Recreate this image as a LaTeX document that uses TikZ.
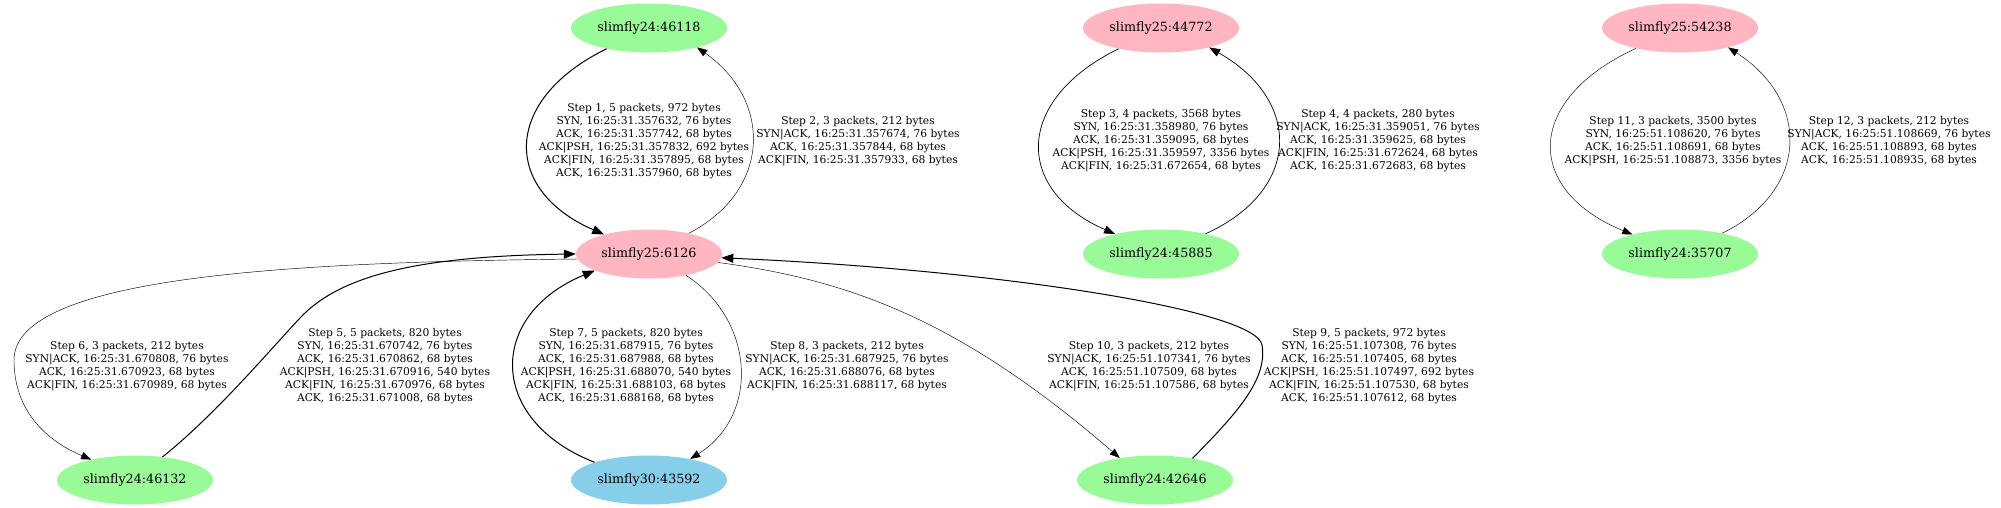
\documentclass[tikz,border=0pt]{standalone}
\usepackage{fontspec}
\setmainfont{DejaVu Serif}
\usetikzlibrary{shapes.geometric, arrows.meta}
\definecolor{pgreen}{HTML}{98FB98}
\definecolor{lpink}{HTML}{FFB6C1}
\definecolor{sky}{HTML}{87CEEB}
\begin{document}
\begin{tikzpicture}[x=1pt,y=-1pt,
  host/.style={ellipse, inner sep=0pt, minimum width=156pt, minimum height=49pt, font=\fontsize{12.7}{15}\selectfont},
  lbl/.style={align=center, inner sep=0pt, font=\fontsize{10.7}{13}\selectfont},
  e5/.style={line width=1.0pt, -{Triangle[length=12pt,width=9pt]}},
  e4/.style={line width=0.7pt, -{Triangle[length=11pt,width=8pt]}},
  e3/.style={line width=0.45pt, -{Triangle[length=10pt,width=7.5pt]}}]
\path[use as bounding box, fill=white] (0,0) rectangle (2001,508);

\node[host,fill=pgreen] (A) at (649,28) {slimfly24:46118};
\node[host,fill=lpink] (B) at (1161,28) {slimfly25:44772};
\node[host,fill=lpink] (C) at (1680,28) {slimfly25:54238};
\node[host,fill=lpink,minimum width=146pt] (D) at (649,254) {slimfly25:6126};
\node[host,fill=pgreen] (E) at (1161,254) {slimfly24:45885};
\node[host,fill=pgreen] (F) at (1680,254) {slimfly24:35707};
\node[host,fill=pgreen] (G) at (135,480) {slimfly24:46132};
\node[host,fill=sky] (H) at (649,480) {slimfly30:43592};
\node[host,fill=pgreen] (I) at (1155,480) {slimfly24:42646};

\node[lbl] (l1) at (644,141) {Step 1, 5 packets, 972 bytes\\SYN, 16:25:31.357632, 76 bytes\\ACK, 16:25:31.357742, 68 bytes\\ACK|PSH, 16:25:31.357832, 692 bytes\\ACK|FIN, 16:25:31.357895, 68 bytes\\ACK, 16:25:31.357960, 68 bytes};
\node[lbl] (l2) at (858,141) {Step 2, 3 packets, 212 bytes\\SYN|ACK, 16:25:31.357674, 76 bytes\\ACK, 16:25:31.357844, 68 bytes\\ACK|FIN, 16:25:31.357933, 68 bytes};
\node[lbl] (l3) at (1161,141) {Step 3, 4 packets, 3568 bytes\\SYN, 16:25:31.358980, 76 bytes\\ACK, 16:25:31.359095, 68 bytes\\ACK|PSH, 16:25:31.359597, 3356 bytes\\ACK|FIN, 16:25:31.672654, 68 bytes};
\node[lbl] (l4) at (1378,141) {Step 4, 4 packets, 280 bytes\\SYN|ACK, 16:25:31.359051, 76 bytes\\ACK, 16:25:31.359625, 68 bytes\\ACK|FIN, 16:25:31.672624, 68 bytes\\ACK, 16:25:31.672683, 68 bytes};
\node[lbl] (l11) at (1673,141) {Step 11, 3 packets, 3500 bytes\\SYN, 16:25:51.108620, 76 bytes\\ACK, 16:25:51.108691, 68 bytes\\ACK|PSH, 16:25:51.108873, 3356 bytes};
\node[lbl] (l12) at (1889,141) {Step 12, 3 packets, 212 bytes\\SYN|ACK, 16:25:51.108669, 76 bytes\\ACK, 16:25:51.108893, 68 bytes\\ACK, 16:25:51.108935, 68 bytes};
\node[lbl] (l6) at (127,366) {Step 6, 3 packets, 212 bytes\\SYN|ACK, 16:25:31.670808, 76 bytes\\ACK, 16:25:31.670923, 68 bytes\\ACK|FIN, 16:25:31.670989, 68 bytes};
\node[lbl] (l5) at (385,366) {Step 5, 5 packets, 820 bytes\\SYN, 16:25:31.670742, 76 bytes\\ACK, 16:25:31.670862, 68 bytes\\ACK|PSH, 16:25:31.670916, 540 bytes\\ACK|FIN, 16:25:31.670976, 68 bytes\\ACK, 16:25:31.671008, 68 bytes};
\node[lbl] (l7) at (626,366) {Step 7, 5 packets, 820 bytes\\SYN, 16:25:31.687915, 76 bytes\\ACK, 16:25:31.687988, 68 bytes\\ACK|PSH, 16:25:31.688070, 540 bytes\\ACK|FIN, 16:25:31.688103, 68 bytes\\ACK, 16:25:31.688168, 68 bytes};
\node[lbl] (l8) at (847,366) {Step 8, 3 packets, 212 bytes\\SYN|ACK, 16:25:31.687925, 76 bytes\\ACK, 16:25:31.688076, 68 bytes\\ACK|FIN, 16:25:31.688117, 68 bytes};
\node[lbl] (l10) at (1149,366) {Step 10, 3 packets, 212 bytes\\SYN|ACK, 16:25:51.107341, 76 bytes\\ACK, 16:25:51.107509, 68 bytes\\ACK|FIN, 16:25:51.107586, 68 bytes};
\node[lbl] (l9) at (1369,366) {Step 9, 5 packets, 972 bytes\\SYN, 16:25:51.107308, 76 bytes\\ACK, 16:25:51.107405, 68 bytes\\ACK|PSH, 16:25:51.107497, 692 bytes\\ACK|FIN, 16:25:51.107530, 68 bytes\\ACK, 16:25:51.107612, 68 bytes};

\draw[e5] (A) .. controls (502,100) and (502,190) .. (D);
\draw[e3] (D) .. controls (772,190) and (772,100) .. (A.-22);
\draw[e4] (B) .. controls (1014,100) and (1014,190) .. (E);
\draw[e4] (E) .. controls (1302,190) and (1302,100) .. (B.-22);
\draw[e3] (C) .. controls (1524,100) and (1524,190) .. (F);
\draw[e3] (F) .. controls (1810,190) and (1810,100) .. (C.-22);
\draw[e5] (G.40) .. controls (215,415) and (270,350) .. (300,318) .. controls (340,275) and (420,256) .. (D.180);
\draw[e3] (D.184) .. controls (300,262) and (14,275) .. (14,360) .. controls (14,410) and (45,440) .. (G.155);
\draw[e5] (H.162) .. controls (487,420) and (487,315) .. (D.197);
\draw[e3] (D.330) .. controls (755,320) and (760,415) .. (H.27);
\draw[e3] (D.353) .. controls (850,280) and (960,320) .. (I.148);
\draw[e5] (I.30) .. controls (1235,415) and (1268,380) .. (1262,345) .. controls (1256,310) and (1000,270) .. (D.357);
\end{tikzpicture}
\end{document}
